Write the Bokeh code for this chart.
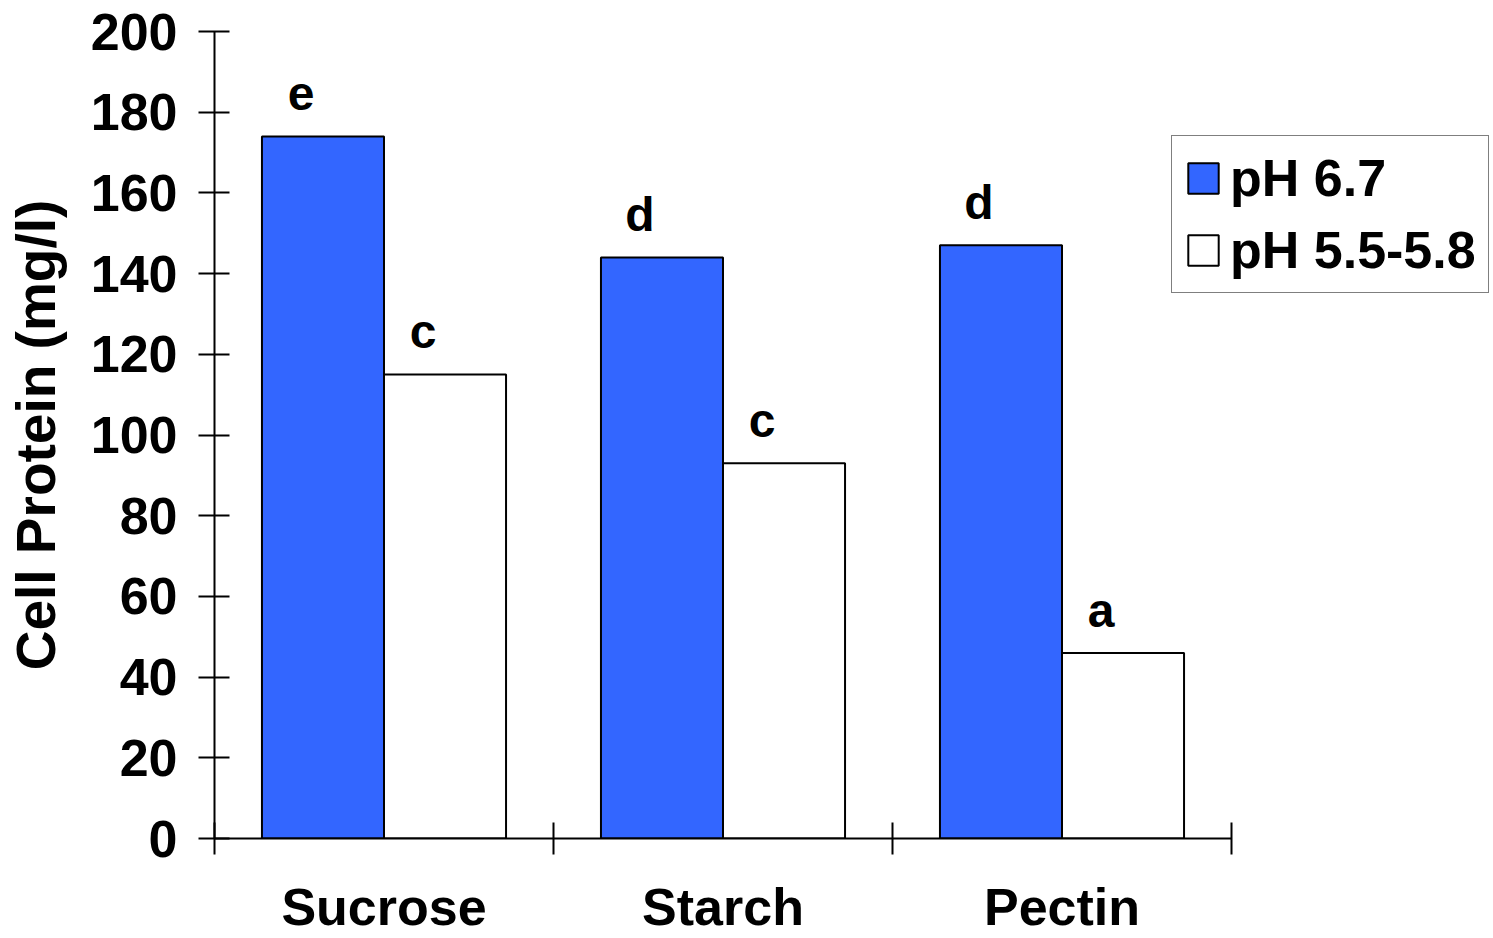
from bokeh.plotting import figure
from bokeh.models import (Range1d, FixedTicker, ColumnDataSource, LabelSet,
                          Legend, LegendItem)
from bokeh.core.properties import value
from bokeh.embed import file_html
from bokeh.resources import INLINE

# ---- data ----
categories = ["Sucrose", "Starch", "Pectin"]
series_names = ["pH 6.7", "pH 5.5-5.8"]
ph67 = [174, 144, 147]
ph55 = [115, 93, 46]
letters_ph67 = ["e", "d", "d"]
letters_ph55 = ["c", "c", "a"]
y_ticks = [0, 20, 40, 60, 80, 100, 120, 140, 160, 180, 200]
y_label = "Cell Protein (mg/l)"

BLUE = "#3366FF"
FONT = "Liberation Sans"
BAR_W = 0.36

W, H = 1493, 938
LEFT, TOP, BOTTOM = 214, 31, 100
AXIS_PX = 1017          # width of the category part of the frame

n = len(categories)
centers = [i + 0.5 for i in range(n)]
x67 = [c - BAR_W / 2 for c in centers]
x55 = [c + BAR_W / 2 for c in centers]
x_end = n * (W - LEFT) / AXIS_PX   # frame continues right to hold the legend

p = figure(width=W, height=H,
           x_range=Range1d(0, x_end), y_range=Range1d(y_ticks[0], y_ticks[-1]),
           output_backend="svg", toolbar_location=None,
           min_border_left=LEFT, min_border_right=0,
           min_border_top=TOP, min_border_bottom=BOTTOM)
p.outline_line_color = None
p.grid.visible = False
p.background_fill_color = "white"
p.border_fill_color = "white"

src67 = ColumnDataSource(dict(x=x67, top=ph67, lab=letters_ph67))
src55 = ColumnDataSource(dict(x=x55, top=ph55, lab=letters_ph55))
r1 = p.vbar(x="x", top="top", bottom=0, width=BAR_W, source=src67,
            fill_color=BLUE, line_color="black", line_width=2)
r2 = p.vbar(x="x", top="top", bottom=0, width=BAR_W, source=src55,
            fill_color="white", line_color="black", line_width=2)

# significance letters
for s in (src67, src55):
    p.add_layout(LabelSet(x="x", y="top", text="lab", source=s,
                          x_offset=-22, y_offset=26,
                          text_align="center", text_baseline="alphabetic",
                          text_font=value(FONT), text_font_style="bold",
                          text_font_size="48px", text_color="black"))

# y axis
ya = p.yaxis[0]
ya.ticker = FixedTicker(ticks=y_ticks, minor_ticks=[])
ya.axis_line_width = 2
ya.axis_line_color = "black"
ya.major_tick_in = 15
ya.major_tick_out = 16
ya.major_tick_line_width = 2
ya.major_tick_line_color = "black"
ya.major_label_standoff = 21
ya.major_label_text_font = FONT
ya.major_label_text_font_style = "bold"
ya.major_label_text_font_size = "52px"
ya.major_label_text_color = "black"
ya.axis_label = y_label
ya.axis_label_text_font = FONT
ya.axis_label_text_font_style = "bold"
ya.axis_label_text_font_size = "55px"
ya.axis_label_text_color = "black"
ya.axis_label_standoff = 21

# x axis: labels at category centres, ticks at category boundaries
xa = p.xaxis[0]
xa.bounds = (0, n)
xa.ticker = FixedTicker(ticks=centers, minor_ticks=list(range(n + 1)))
xa.major_label_overrides = {c: name for c, name in zip(centers, categories)}
xa.axis_line_width = 2
xa.axis_line_color = "black"
xa.major_tick_line_color = None
xa.major_tick_in = 0
xa.major_tick_out = 16
xa.minor_tick_in = 16
xa.minor_tick_out = 16
xa.minor_tick_line_width = 2
xa.minor_tick_line_color = "black"
xa.major_label_standoff = 23
xa.major_label_text_font = FONT
xa.major_label_text_font_style = "bold"
xa.major_label_text_font_size = "52px"
xa.major_label_text_color = "black"

legend = Legend(items=[LegendItem(label=series_names[0], renderers=[r1]),
                       LegendItem(label=series_names[1], renderers=[r2])],
                location=(957, 838 - 293), orientation="vertical",
                label_text_font=FONT, label_text_font_style="bold",
                label_text_font_size="52px", label_text_color="black",
                glyph_width=38, glyph_height=38, label_standoff=8,
                padding=12, spacing=12, margin=0,
                border_line_color="black", border_line_width=1.2,
                background_fill_color="white", background_fill_alpha=1)
p.add_layout(legend)

open("out.html", "w").write(file_html(p, INLINE))
